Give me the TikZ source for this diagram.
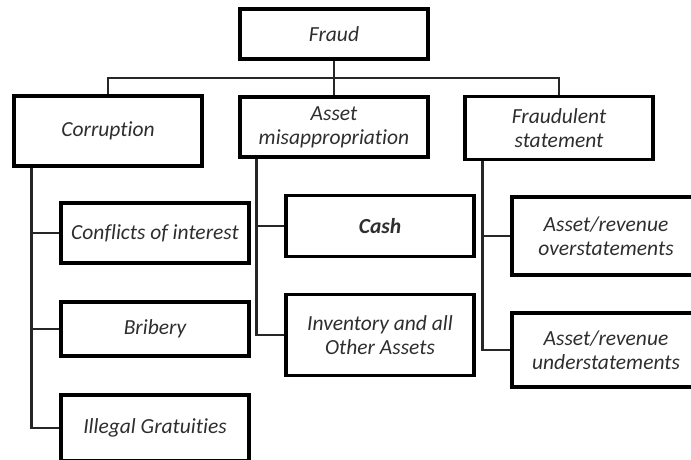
\documentclass[tikz,border=0pt]{standalone}
\usepackage{fontspec}
\setmainfont{Carlito}[Ligatures={NoCommon,NoRare,NoContextual},Contextuals=NoAlternate]
\usetikzlibrary{calc}
\tikzstyle{box}=[draw,line width=3.2pt,minimum width=188pt,inner sep=0pt,align=center,text=black!82,font=\itshape\fontsize{21.5}{24}\selectfont]
\tikzstyle{branch}=[line width=2.2pt,black!85]

\begin{document}
\begin{tikzpicture}[x=1pt,y=-1pt] % pixel units, y grows downwards
\useasboundingbox (0,0) rectangle (691,459);
\clip (0,0) rectangle (691,459);
% top level
\node[box,minimum height=50pt] (fraud) at (334,34) {Fraud};
\node[box,minimum height=70pt] (corrupt) at (108,131) {Corrupt\kern0pt ion};
\node[box,minimum height=60pt] (asset) at (334,127) {Asset\\misappropriat\kern0pt ion};
\node[box,minimum height=63pt] (fstmt) at (559,128) {Fraudulent\\statement};
% children
\node[box,minimum height=60pt] (conflict) at (155,233) {Conflicts of interest};
\node[box,minimum height=54pt] (bribe) at (155,329) {Bribery};
\node[box,minimum height=66pt] (illegal) at (155,428) {Illegal Gratuit\kern0pt ies};
\node[box,minimum height=61pt,font=\bfseries\itshape\fontsize{21.5}{24}\selectfont] (cash) at (380,226) {Cash};
\node[box,minimum height=81pt] (invent) at (380,335) {Inventory and all\\Other Assets};
\node[box,minimum height=78pt] (over) at (606,236) {Asset/revenue\\overstatements};
\node[box,minimum height=74pt] (under) at (606,350) {Asset/revenue\\understatements};
% fraud to the three branches
\coordinate (bar) at (334,78);
\draw[branch] (fraud.south) -- (asset.north);
\draw[branch] (corrupt.north) |- (bar) -| (fstmt.north);
% branches to their children
\coordinate (cl) at ($(corrupt.south west)+(19,0)$);
\coordinate (al) at ($(asset.south west)+(18,0)$);
\coordinate (fl) at ($(fstmt.south west)+(19,0)$);
\draw[branch] (cl) |- (illegal.west);
\draw[branch] (conflict.west) -- (conflict.west -| cl);
\draw[branch] (bribe.west) -- (bribe.west -| cl);
\draw[branch] (al) |- (invent.west);
\draw[branch] (cash.west) -- (cash.west -| al);
\draw[branch] (fl) |- (under.west);
\draw[branch] (over.west) -- (over.west -| fl);
\end{tikzpicture}
\end{document}
